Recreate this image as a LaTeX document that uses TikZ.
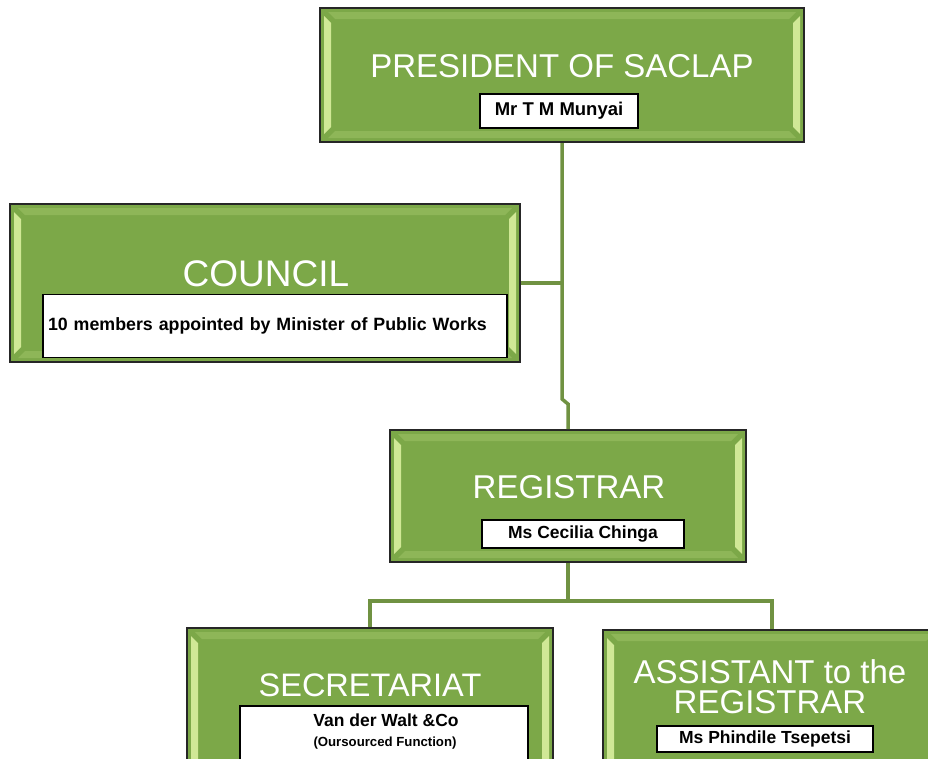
\documentclass[tikz,border=0pt]{standalone}
\usepackage{fontspec}
\setmainfont{Liberation Sans}
\usetikzlibrary{calc}

\definecolor{boxgreen}{RGB}{124,168,72}
\definecolor{bevlight}{RGB}{208,232,150}
\definecolor{bevtop}{RGB}{142,182,88}
\definecolor{linkgreen}{RGB}{112,146,66}

% light bevel strips inside a green box
\newcommand{\bevel}[1]{%
	\fill[bevlight] ($(#1.north west)+(5,9)$) -- ($(#1.north west)+(12,16)$)
		-- ($(#1.south west)+(12,-16)$) -- ($(#1.south west)+(5,-9)$) -- cycle;
	\fill[bevlight] ($(#1.north east)+(-5,9)$) -- ($(#1.north east)+(-12,16)$)
		-- ($(#1.south east)+(-12,-16)$) -- ($(#1.south east)+(-5,-9)$) -- cycle;
	\fill[bevtop] ($(#1.north west)+(9,5)$) -- ($(#1.north east)+(-9,5)$)
		-- ($(#1.north east)+(-16,12)$) -- ($(#1.north west)+(16,12)$) -- cycle;
	\fill[bevtop] ($(#1.south west)+(9,-5)$) -- ($(#1.south east)+(-9,-5)$)
		-- ($(#1.south east)+(-16,-12)$) -- ($(#1.south west)+(16,-12)$) -- cycle;
}

\begin{document}
\begin{tikzpicture}[x=1pt, y=-1pt,
	greenbox/.style={draw=black!85, line width=2pt, fill=boxgreen, inner sep=0pt},
	namebox/.style={draw=black, line width=1.6pt, fill=white, inner sep=0pt},
	titletext/.style={text=white, font=\fontsize{33}{31}\selectfont, align=center},
	persontext/.style={font=\bfseries\fontsize{17.5}{20}\selectfont},
	link/.style={draw=linkgreen, line width=3.5pt}]
	
	\clip (0,0) rectangle (928,758);
	
	% ----- PRESIDENT
	\node[greenbox, minimum width=484pt, minimum height=134pt] (pres) at (562,75) {};
	\bevel{pres}
	\node[titletext] (presT) at (562,66) {PRESIDENT OF SACLAP};
	\node[namebox, persontext, font=\bfseries\fontsize{18.5}{20}\selectfont, minimum width=158pt, minimum height=34pt] (presN) at (559,111) {Mr T M Munyai};
	
	% ----- COUNCIL
	\node[greenbox, minimum width=510pt, minimum height=158pt] (council) at (265,283) {};
	\bevel{council}
	\node[titletext, font=\fontsize{37}{37}\selectfont] (councilT) at (266,274) {COUNCIL};
	\node[namebox, persontext, font=\bfseries\fontsize{17.8}{20}\selectfont, text width=454pt, inner xsep=5pt, minimum height=63pt, align=left] (councilN) at (275,326)
		{10 members appointed by Minister of Public Works};
	
	% ----- REGISTRAR
	\node[greenbox, minimum width=356pt, minimum height=132pt] (reg) at (568,496) {};
	\bevel{reg}
	\node[titletext] (regT) at (569,487) {REGISTRAR};
	\node[namebox, persontext, minimum width=202pt, minimum height=28pt] (regN) at (583,534) {Ms Cecilia Chinga};
	
	% ----- SECRETARIAT
	\node[greenbox, minimum width=366pt, minimum height=150pt] (sec) at (370,703) {};
	\bevel{sec}
	\node[titletext, font=\fontsize{32.5}{31}\selectfont] (secT) at (370,685) {SECRETARIAT};
	\node[namebox, minimum width=288pt, minimum height=60pt] (secN) at (384,736) {};
	\node[persontext] (secNa) at (386,720) {Van der Walt \&Co};
	\node[font=\bfseries\fontsize{13.2}{14}\selectfont] (secNb) at (385,743) {(Oursourced Function)};
	
	% ----- ASSISTANT to the REGISTRAR
	\node[greenbox, minimum width=338pt, minimum height=150pt] (asst) at (772,705) {};
	\bevel{asst}
	\node[titletext, font=\fontsize{33}{30}\selectfont] (asstT) at (770,687) {ASSISTANT to the\\REGISTRAR};
	\node[namebox, persontext, minimum width=216pt, minimum height=26pt] (asstN) at (765,739) {Ms Phindile Tsepetsi};
	
	% ----- connectors
	\coordinate (jogA) at (562,399);
	\coordinate (jogB) at (568,404);
	\coordinate (fork) at (568,601);
	\draw[link] (pres.south) -- (jogA) -- (jogB) -- (reg.north);
	\draw[link] (council.east) -- (council.east -| pres.south);
	\draw[link] (reg.south) -- (fork);
	\draw[link] (sec.north) |- (fork) -| (asst.north);
	
\end{tikzpicture}
\end{document}
